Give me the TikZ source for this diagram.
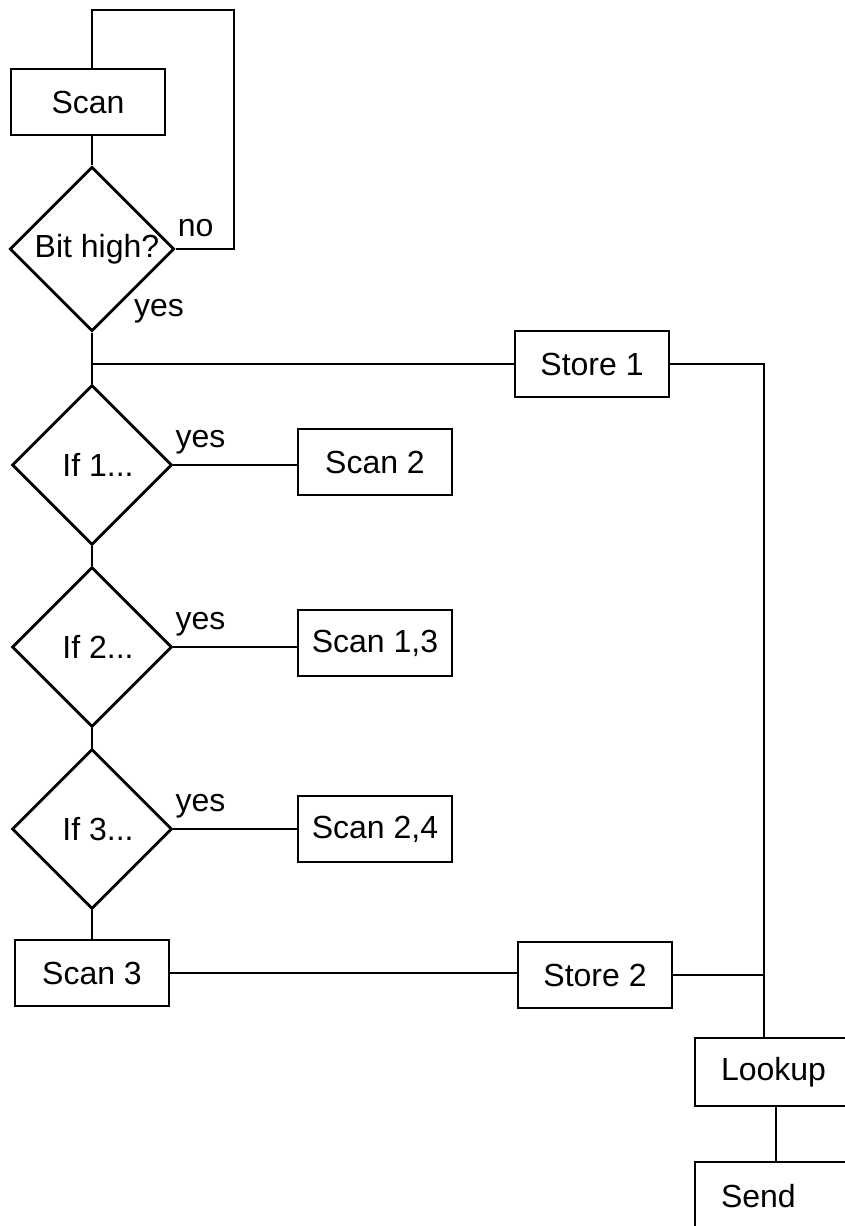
\documentclass[tikz,border=0pt]{standalone}
\usepackage{fontspec}
\setmainfont{Liberation Sans}
\usetikzlibrary{shapes.geometric,calc,positioning}
\newcommand{\chartfont}{\fontsize{32}{36}\selectfont}
\tikzset{
  box/.style    = {draw,line width=2.8pt,minimum width=154pt,minimum height=66pt,
                   inner sep=0pt,font=\chartfont},
  dec/.style    = {draw,diamond,shape aspect=1,line width=2.8pt,minimum width=160pt,
                   minimum height=160pt,inner sep=0pt,font=\chartfont},
  outbox/.style = {draw,line width=1.6pt,minimum height=68pt,text width=110pt,
                   inner xsep=26pt,align=left,font=\chartfont},
  lnk/.style    = {line width=1.9pt},
  lbl/.style    = {inner sep=0pt,font=\chartfont},
}

\begin{document}
\begin{tikzpicture}[x=1pt,y=-1pt]
  \useasboundingbox (0,0) rectangle (845,1226);
  % main column
  \node[box] (scan)   at (88,102)  {Scan};
  \node[dec] (bit)    at (92,249)  {\hspace*{10pt}Bit high?};
  \node[dec] (if1)    at (92,465)  {\hspace*{12pt}If 1...};
  \node[dec] (if2)    at (92,647)  {\hspace*{12pt}If 2...};
  \node[dec] (if3)    at (92,829)  {\hspace*{12pt}If 3...};
  \node[box] (scan3)  at (92,973)  {Scan 3};
  % branches
  \node[box] (scan2)  at (375,462) {Scan 2};
  \node[box] (scan13) at (375,643) {Scan 1,3};
  \node[box] (scan24) at (375,829) {Scan 2,4};
  \node[box] (store1) at (592,364) {Store 1};
  \node[box] (store2) at (595,975) {Store 2};
  \node[outbox] (lookup) at (776,1072) {Lookup};
  \node[outbox] (send)   at (776,1196) {Send};
  \coordinate (loop) at (234,10);
  \coordinate (tap)  at (bit.south |- store1.west);
  \coordinate (bus)  at (764,364);

  % connectors
  \draw[lnk] (bit.north |- scan.south) -- (bit.north);
  \draw[lnk] (bit.east) -| (loop) -| (bit.north |- scan.north);
  \draw[lnk] (bit.south) -- (if1.north);
  \draw[lnk] (tap) -- (store1.west);
  \draw[lnk] (if1.south) -- (if2.north);
  \draw[lnk] (if2.south) -- (if3.north);
  \draw[lnk] (if3.south) -- (scan3.north);
  \draw[lnk] (if1.east) -- (if1.east -| scan2.west);
  \draw[lnk] (if2.east) -- (if2.east -| scan13.west);
  \draw[lnk] (if3.east) -- (if3.east -| scan24.west);
  \draw[lnk] (scan3.east) -- (scan3.east -| store2.west);
  \draw[lnk] (store1.east) -- (bus) -- (bus |- lookup.north);
  \draw[lnk] (store2.east) -- (store2.east -| bus);
  \draw[lnk] (lookup) -- (send);

  % answers
  \node[lbl,anchor=base west,xshift=2pt,yshift=13pt]  (no)   at (bit.east)  {no};
  \node[lbl,anchor=base west,xshift=42pt,yshift=16pt] (yes0) at (bit.south) {yes};
  \node[lbl,anchor=base west,xshift=2pt,yshift=18pt]  (yes1) at (if1.east)  {yes};
  \node[lbl,anchor=base west,xshift=2pt,yshift=18pt]  (yes2) at (if2.east)  {yes};
  \node[lbl,anchor=base west,xshift=2pt,yshift=18pt]  (yes3) at (if3.east)  {yes};
\end{tikzpicture}
\end{document}
